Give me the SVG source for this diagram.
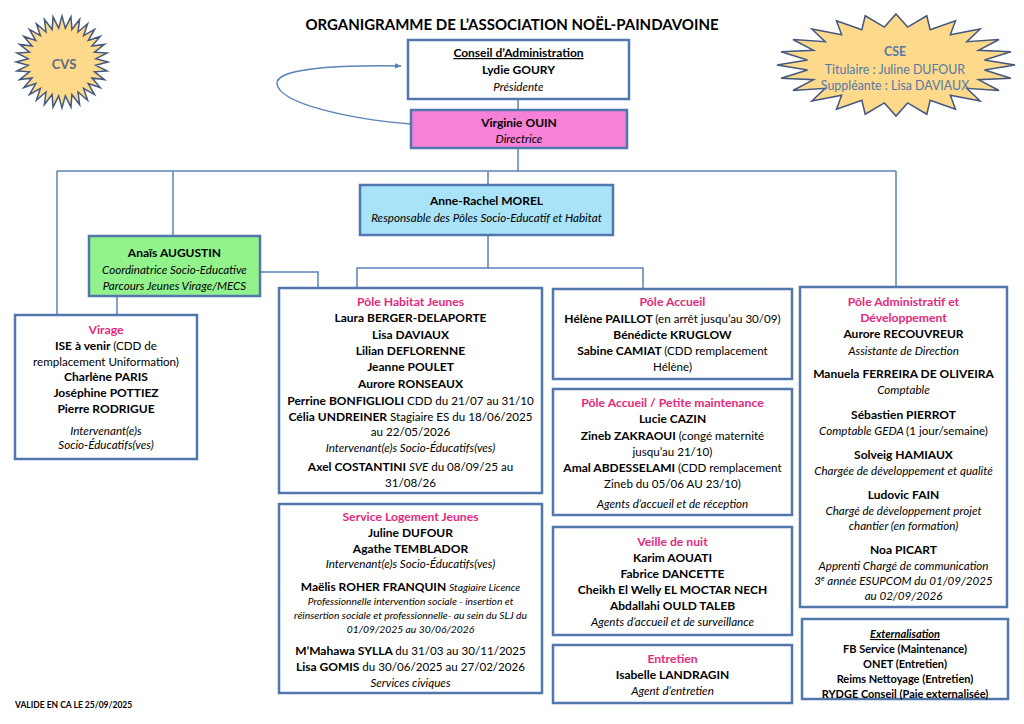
<svg xmlns="http://www.w3.org/2000/svg" width="1024" height="724" viewBox="0 0 1024 724">
<style>
text{font-family:Lato,"Liberation Sans",sans-serif;text-anchor:middle;fill:#000}
.b{font-weight:700;font-size:12px}
.i{font-style:italic;font-size:11.6px;font-weight:400}
.r{font-size:11.6px;font-weight:400;font-style:normal}
.s{font-style:italic;font-size:10.3px;font-weight:400}
.h{fill:#e5287f;font-weight:700;font-size:12.2px}
.box{fill:#fff;stroke:#5277ad;stroke-width:2.5}
.ln{fill:none;stroke:#5b83b6;stroke-width:1.5}
.star{fill:#fcd98b;stroke:#44587f;stroke-width:1.5}
.cse{fill:#5878a8;font-size:12.4px}
</style>
<defs>
<marker id="ah" viewBox="0 0 10 10" refX="9" refY="5" markerWidth="7" markerHeight="7" orient="auto" markerUnits="userSpaceOnUse">
<path d="M0,1 L10,5 L0,9 z" fill="#5b83b6"/>
</marker>
</defs>
<rect width="1024" height="724" fill="#fff"/>

<text x="512" y="30" style="font-weight:700;font-size:15px">ORGANIGRAMME DE L’ASSOCIATION NOËL-PAINDAVOINE</text>

<g id="connectors">
<path class="ln" d="M518 99V110"/>
<path class="ln" d="M518 148V171"/>
<path class="ln" d="M57 171H896"/>
<path class="ln" d="M57 171V315"/>
<path class="ln" d="M173 171V236"/>
<path class="ln" d="M488 171V185"/>
<path class="ln" d="M896 171V287"/>
<path class="ln" d="M488 235V268H357V288"/>
<path class="ln" d="M488 268H643V289"/>
<path class="ln" d="M260 272H318V288"/>
<path class="ln" d="M117 296V315"/>
<path class="ln" d="M411 124C350 119 280 104 277 84C275 69 330 65 401 66" marker-end="url(#ah)" stroke-width="2"/>
</g>

<g id="cvs">
<polygon class="star" transform="translate(62,62)" points="0,-46 3.33,-33.84 8.97,-45.12 9.87,-32.53 17.6,-42.5 16.02,-29.98 25.56,-38.25 21.57,-26.28 32.53,-32.53 26.28,-21.57 38.25,-25.56 29.98,-16.02 42.5,-17.6 32.53,-9.87 45.12,-8.97 33.84,-3.33 46,0 33.84,3.33 45.12,8.97 32.53,9.87 42.5,17.6 29.98,16.02 38.25,25.56 26.28,21.57 32.53,32.53 21.57,26.28 25.56,38.25 16.02,29.98 17.6,42.5 9.87,32.53 8.97,45.12 3.33,33.84 0,46 -3.33,33.84 -8.97,45.12 -9.87,32.53 -17.6,42.5 -16.02,29.98 -25.56,38.25 -21.57,26.28 -32.53,32.53 -26.28,21.57 -38.25,25.56 -29.98,16.02 -42.5,17.6 -32.53,9.87 -45.12,8.97 -33.84,3.33 -46,0 -33.84,-3.33 -45.12,-8.97 -32.53,-9.87 -42.5,-17.6 -29.98,-16.02 -38.25,-25.56 -26.28,-21.57 -32.53,-32.53 -21.57,-26.28 -25.56,-38.25 -16.02,-29.98 -17.6,-42.5 -9.87,-32.53 -8.97,-45.12 -3.33,-33.84"/>
<text x="64" y="69" style="font-weight:700;font-size:13px;fill:#5a6b85">CVS</text>
</g>

<g id="cse">
<polygon class="star" vector-effect="non-scaling-stroke" transform="translate(896,65) scale(119,51)" points="0,-1 0.0979,-0.7436 0.2588,-0.9659 0.287,-0.6929 0.5,-0.866 0.4566,-0.595 0.7071,-0.7071 0.595,-0.4566 0.866,-0.5 0.6929,-0.287 0.9659,-0.2588 0.7436,-0.0979 1,0 0.7436,0.0979 0.9659,0.2588 0.6929,0.287 0.866,0.5 0.595,0.4566 0.7071,0.7071 0.4566,0.595 0.5,0.866 0.287,0.6929 0.2588,0.9659 0.0979,0.7436 0,1 -0.0979,0.7436 -0.2588,0.9659 -0.287,0.6929 -0.5,0.866 -0.4566,0.595 -0.7071,0.7071 -0.595,0.4566 -0.866,0.5 -0.6929,0.287 -0.9659,0.2588 -0.7436,0.0979 -1,0 -0.7436,-0.0979 -0.9659,-0.2588 -0.6929,-0.287 -0.866,-0.5 -0.595,-0.4566 -0.7071,-0.7071 -0.4566,-0.595 -0.5,-0.866 -0.287,-0.6929 -0.2588,-0.9659 -0.0979,-0.7436"/>
<text class="cse" x="895" y="56" style="font-weight:700">CSE</text>
<text class="cse" x="895" y="74">Titulaire : Juline DUFOUR</text>
<text class="cse" x="895" y="90">Suppléante : Lisa DAVIAUX</text>
</g>

<g id="conseil">
<rect class="box" x="408" y="40" width="221" height="59"/>
<text class="b" x="518.5" y="57" text-decoration="underline">Conseil d’Administration</text>
<text class="b" x="518.5" y="74">Lydie GOURY</text>
<text class="i" x="518.5" y="91">Présidente</text>
</g>

<g id="directrice">
<rect class="box" x="411" y="110" width="216" height="38" style="fill:#f582d6"/>
<text class="b" x="519" y="127">Virginie OUIN</text>
<text class="i" x="519" y="143">Directrice</text>
</g>

<g id="morel">
<rect class="box" x="360" y="185" width="253" height="50" style="fill:#a9e3f7"/>
<text class="b" x="486.5" y="205">Anne-Rachel MOREL</text>
<text class="i" x="486.5" y="222">Responsable des Pôles Socio-Educatif et Habitat</text>
</g>

<g id="augustin">
<rect class="box" x="89" y="236" width="171" height="60" style="fill:#92f38c"/>
<text class="b" x="174.5" y="257">Anaïs AUGUSTIN</text>
<text class="i" x="174.5" y="274">Coordinatrice Socio-Educative</text>
<text class="i" x="174.5" y="290">Parcours Jeunes Virage/MECS</text>
</g>

<g id="virage">
<rect class="box" x="15" y="315" width="182" height="144"/>
<text class="h" x="106" y="334">Virage</text>
<text class="b" x="106" y="350">ISE à venir <tspan class="r">(CDD de</tspan></text>
<text class="r" x="106" y="366">remplacement Uniformation)</text>
<text class="b" x="106" y="381">Charlène PARIS</text>
<text class="b" x="106" y="397">Joséphine POTTIEZ</text>
<text class="b" x="106" y="413">Pierre RODRIGUE</text>
<text class="i" x="106" y="435">Intervenant(e)s</text>
<text class="i" x="106" y="449">Socio-Éducatifs(ves)</text>
</g>

<g id="habitat">
<rect class="box" x="279" y="288" width="263" height="205"/>
<text class="h" x="410.5" y="306">Pôle Habitat Jeunes</text>
<text class="b" x="410.5" y="322">Laura BERGER-DELAPORTE</text>
<text class="b" x="410.5" y="339">Lisa DAVIAUX</text>
<text class="b" x="410.5" y="355">Lilian DEFLORENNE</text>
<text class="b" x="410.5" y="371">Jeanne POULET</text>
<text class="b" x="410.5" y="388">Aurore RONSEAUX</text>
<text class="b" x="410.5" y="405">Perrine BONFIGLIOLI <tspan class="r">CDD du 21/07 au 31/10</tspan></text>
<text class="b" x="410.5" y="421">Célia UNDREINER <tspan class="r">Stagiaire ES du 18/06/2025</tspan></text>
<text class="r" x="410.5" y="436">au 22/05/2026</text>
<text class="i" x="410.5" y="452">Intervenant(e)s Socio-Éducatifs(ves)</text>
<text class="b" x="410.5" y="471">Axel COSTANTINI <tspan class="i">SVE</tspan><tspan class="r"> du 08/09/25 au</tspan></text>
<text class="r" x="410.5" y="487">31/08/26</text>
</g>

<g id="slj">
<rect class="box" x="279" y="504" width="263" height="189"/>
<text class="h" x="410.5" y="521">Service Logement Jeunes</text>
<text class="b" x="410.5" y="537">Juline DUFOUR</text>
<text class="b" x="410.5" y="553">Agathe TEMBLADOR</text>
<text class="i" x="410.5" y="568">Intervenant(e)s Socio-Éducatifs(ves)</text>
<text class="b" x="410.5" y="591">Maëlis ROHER FRANQUIN <tspan class="s">Stagiaire Licence</tspan></text>
<text class="s" x="410.5" y="605">Professionnelle intervention sociale - insertion et</text>
<text class="s" x="410.5" y="619">réinsertion sociale et professionnelle- au sein du SLJ du</text>
<text class="s" x="410.5" y="633">01/09/2025 au 30/06/2026</text>
<text class="b" x="410.5" y="655">M’Mahawa SYLLA <tspan class="r">du 31/03 au 30/11/2025</tspan></text>
<text class="b" x="410.5" y="671">Lisa GOMIS <tspan class="r">du 30/06/2025 au 27/02/2026</tspan></text>
<text class="i" x="410.5" y="687">Services civiques</text>
</g>

<g id="accueil">
<rect class="box" x="553" y="289" width="239" height="90"/>
<text class="h" x="672.5" y="306">Pôle Accueil</text>
<text class="b" x="672.5" y="323">Hélène PAILLOT <tspan class="r">(en arrêt jusqu’au 30/09)</tspan></text>
<text class="b" x="672.5" y="339">Bénédicte KRUGLOW</text>
<text class="b" x="672.5" y="355">Sabine CAMIAT <tspan class="r">(CDD remplacement</tspan></text>
<text class="r" x="672.5" y="371">Hélène)</text>
</g>

<g id="maintenance">
<rect class="box" x="553" y="389" width="239" height="126"/>
<text class="h" x="672.5" y="407">Pôle Accueil / Petite maintenance</text>
<text class="b" x="672.5" y="423">Lucie CAZIN</text>
<text class="b" x="672.5" y="440">Zineb ZAKRAOUI <tspan class="r">(congé maternité</tspan></text>
<text class="r" x="672.5" y="456">jusqu’au 21/10)</text>
<text class="b" x="672.5" y="472">Amal ABDESSELAMI <tspan class="r">(CDD remplacement</tspan></text>
<text class="r" x="672.5" y="488">Zineb du 05/06 AU 23/10)</text>
<text class="i" x="672.5" y="508">Agents d’accueil et de réception</text>
</g>

<g id="veille">
<rect class="box" x="553" y="527" width="239" height="108"/>
<text class="h" x="672.5" y="546">Veille de nuit</text>
<text class="b" x="672.5" y="562">Karim AOUATI</text>
<text class="b" x="672.5" y="578">Fabrice DANCETTE</text>
<text class="b" x="672.5" y="594">Cheikh El Welly EL MOCTAR NECH</text>
<text class="b" x="672.5" y="610">Abdallahi OULD TALEB</text>
<text class="i" x="672.5" y="626">Agents d’accueil et de surveillance</text>
</g>

<g id="entretien">
<rect class="box" x="553" y="645" width="239" height="58"/>
<text class="h" x="672.5" y="663">Entretien</text>
<text class="b" x="672.5" y="679">Isabelle LANDRAGIN</text>
<text class="i" x="672.5" y="695">Agent d’entretien</text>
</g>

<g id="admin">
<rect class="box" x="800" y="287" width="207" height="320"/>
<text class="h" x="903.5" y="306">Pôle Administratif et</text>
<text class="h" x="903.5" y="322">Développement</text>
<text class="b" x="903.5" y="338">Aurore RECOUVREUR</text>
<text class="i" x="903.5" y="355">Assistante de Direction</text>
<text class="b" x="903.5" y="378">Manuela FERREIRA DE OLIVEIRA</text>
<text class="i" x="903.5" y="394">Comptable</text>
<text class="b" x="903.5" y="419">Sébastien PIERROT</text>
<text class="i" x="903.5" y="435">Comptable GEDA <tspan class="r">(1 jour/semaine)</tspan></text>
<text class="b" x="903.5" y="459">Solveig HAMIAUX</text>
<text class="i" x="903.5" y="475">Chargée de développement et qualité</text>
<text class="b" x="903.5" y="499">Ludovic FAIN</text>
<text class="i" x="903.5" y="515">Chargé de développement projet</text>
<text class="i" x="903.5" y="530">chantier (en formation)</text>
<text class="b" x="903.5" y="554">Noa PICART</text>
<text class="i" x="903.5" y="570">Apprenti Chargé de communication</text>
<text class="i" x="903.5" y="585">3<tspan font-size="7.5" dy="-4">e</tspan><tspan dy="4"> année ESUPCOM du 01/09/2025</tspan></text>
<text class="i" x="903.5" y="600">au 02/09/2026</text>
</g>

<g id="externalisation">
<rect class="box" x="802" y="619" width="206" height="80"/>
<text x="905" y="638" style="font-weight:700;font-style:italic;font-size:11px" text-decoration="underline">Externalisation</text>
<text x="905" y="653" style="font-weight:700;font-size:11px">FB Service (Maintenance)</text>
<text x="905" y="668" style="font-weight:700;font-size:11px">ONET (Entretien)</text>
<text x="905" y="683" style="font-weight:700;font-size:11px">Reims Nettoyage (Entretien)</text>
<text x="905" y="698" style="font-weight:700;font-size:11px">RYDGE Conseil (Paie externalisée)</text>
</g>

<text x="15" y="708" style="text-anchor:start;font-weight:700;font-size:8.5px">VALIDE EN CA LE 25/09/2025</text>
</svg>
